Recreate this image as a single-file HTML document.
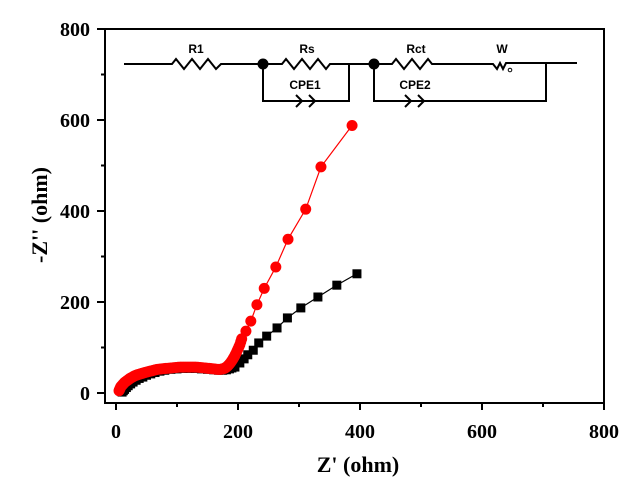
<!DOCTYPE html>
<html><head><meta charset="utf-8"><style>
body{margin:0;background:#fff}
svg{display:block}
text{font-family:"Liberation Serif",serif;font-weight:bold}
.c{font-family:"Liberation Sans",sans-serif;font-weight:bold;font-size:12px}
</style></head><body>
<svg id="chart" width="638" height="485">
<g id="circuit" fill="none" stroke="#000" stroke-width="2">
<path d="M124 64H172l4-5 8 10 8-10 8 10 8-10 8 10 5-5H282l4-5 8 10 8-10 8 10 8-10 8 10 4-5H392l4-5 8 10 8-10 8 10 8-10 4 5H493l4 5 3-6 3 6 3-6h71"/>
<path d="M263 64V101H349V64M374 64V101H546V64"/>
<path d="M296 95l6 6-6 6M309 95l6 6-6 6M405 95l6 6-6 6M418 95l6 6-6 6"/>
<circle cx="510" cy="70" r="1.8" stroke-width="1"/>
<circle cx="263" cy="64" r="4.5" fill="#000"/><circle cx="374" cy="64" r="4.5" fill="#000"/>
</g>
<g>
<text class="c" x="196" y="53" text-anchor="middle">R1</text>
<text class="c" x="307" y="53" text-anchor="middle">Rs</text>
<text class="c" x="416" y="53" text-anchor="middle">Rct</text>
<text class="c" x="502" y="53" text-anchor="middle">W</text>
<text class="c" x="305" y="89" text-anchor="middle">CPE1</text>
<text class="c" x="415" y="89" text-anchor="middle">CPE2</text>
</g>
</svg>
<script>
const xTicks=[0,200,400,600,800];
const yTicks=[0,200,400,600,800];
const redX=[5,5.5,6,6.5,7,7.5,8,9,10,11,12,13,14,15.5,17,18.5,20,21.5,23,25,27,29,31,33,35,37.5,40,42.5,45,47.5,50,53,56,59,62,65,68,71.5,75,78.5,82,86,90,94,98,102,106,110,114,118,122,126,130,134,138,142,146,149.5,153,156.5,160,163,166,168.5,171,173,175,177,179,180.5,182,183.5,185,186.5,188,189.5,191,192.5,194,195.5,197,198.5,200,201.5,203,204.5,206,213,221,231,243,262,282,311,336,387];
const redY=[5,6.5,8,9.5,11,12.5,14,15.5,17,18.5,20,21.5,23,24.5,26,27.5,29,30.5,32,33.5,35,36.5,38,39,40,41,42,43,44,45,46,47,48,49,50,51,52,52.5,53,53.5,54,54.5,55,55.5,56,56.5,57,57,57,57,57,57,57,56.5,56,55.5,55,54.5,54,53.5,53,52.5,52,52,52,52.5,53,54,55,56.5,58,60,62,64.5,67,70,73,76.5,80,84,88,92.5,97,101.5,106,112.5,119,136,158,194,230,277,338,404,497,588];
const blackX=[10,12,14,17,20,24,28,33,38,44,50,57,64,72,80,90,100,110,120,130,140,150,160,168,175,181,186,190,195,203,210,216,225,234,247,264,281,303,331,362,395];
const blackY=[2,5,8,12,16,20,24,28,32,35,39,42,45,48,50,52,53,54,54,54,53,52,51,50,50,51,53,55,57,66,75,84,94,110,125,143,165,187,211,237,262];
const NS="http://www.w3.org/2000/svg";
const svg=document.getElementById('chart');
const X=v=>116+v*0.61, Y=v=>393-v*0.455;
function mk(t,a){const e=document.createElementNS(NS,t);for(const k in a)e.setAttribute(k,a[k]);svg.appendChild(e);return e;}
const frame=mk('rect',{x:105,y:29,width:499,height:374,fill:'none',stroke:'#000','stroke-width':2});


for(let v=0;v<=800;v+=100){
  const maj=v%200===0;
  const tx=mk('line',{x1:X(v),x2:X(v),y1:403,y2:maj?410:407,stroke:'#000','stroke-width':2});
  
  
  const ty=mk('line',{x1:105,x2:maj?97:101,y1:Y(v),y2:Y(v),stroke:'#000','stroke-width':2});
  
  
}
xTicks.forEach(v=>{const t=mk('text',{x:X(v),y:438,'text-anchor':'middle','font-size':20});t.textContent=v;
  
  });
yTicks.forEach(v=>{const t=mk('text',{x:90,y:Y(v)+7,'text-anchor':'end','font-size':20});t.textContent=v;
  
  });
const xt=mk('text',{x:358,y:472,'text-anchor':'middle','font-size':22});xt.textContent="Z' (ohm)";


const yt=mk('text',{x:0,y:0,'text-anchor':'middle','font-size':22,transform:'translate(47,215) rotate(-90)'});yt.textContent="-Z'' (ohm)";


function series(xs,ys,color,shape,name){
  const g=mk('g',{});
  
  
  const l=document.createElementNS(NS,'polyline');
  l.setAttribute('points',xs.map((x,i)=>X(x)+','+Y(ys[i])).join(' '));
  l.setAttribute('fill','none');l.setAttribute('stroke',color);l.setAttribute('stroke-width',1.2);
  g.appendChild(l);
  xs.forEach((x,i)=>{let m;
    if(shape==='sq'){m=document.createElementNS(NS,'rect');m.setAttribute('x',X(x)-4.5);m.setAttribute('y',Y(ys[i])-4.5);m.setAttribute('width',9);m.setAttribute('height',9);}
    else{m=document.createElementNS(NS,'circle');m.setAttribute('cx',X(x));m.setAttribute('cy',Y(ys[i]));m.setAttribute('r',5.5);}
    m.setAttribute('fill',color);
    
    
    g.appendChild(m);});
}
series(blackX,blackY,'#000','sq','black-series');
series(redX,redY,'#f00','ci','red-series');
</script>
</body></html>
